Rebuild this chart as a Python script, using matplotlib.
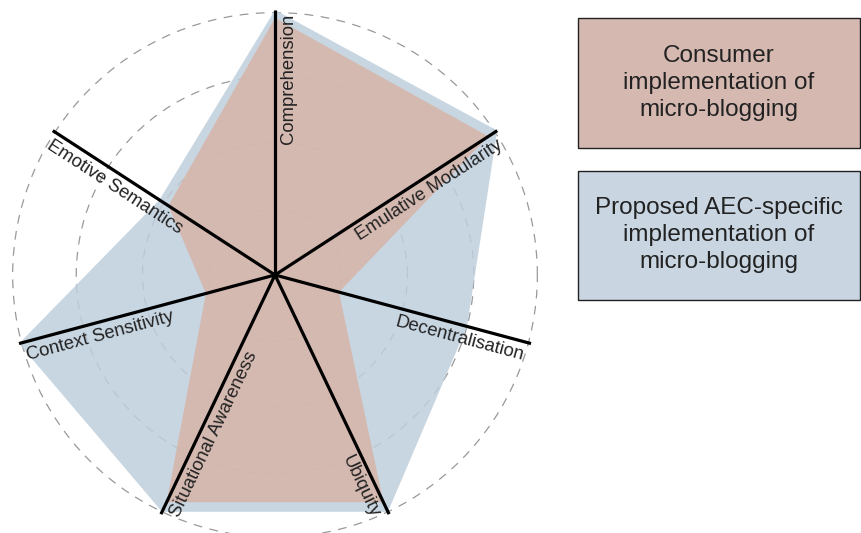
import numpy as np
import matplotlib
matplotlib.use('Agg')
import matplotlib.pyplot as plt
from matplotlib.patches import Rectangle

plt.rcParams['font.family'] = ['Liberation Sans', 'DejaVu Sans']

# spokes of the radar, clockwise from the top
categories = ['Comprehension', 'Emulative Modularity', 'Decentralisation', 'Ubiquity',
              'Situational Awareness', 'Context Sensitivity', 'Emotive Semantics']
# the spokes are not evenly spaced in the original drawing (degrees, 0 = east)
spoke_deg = [90, 33, -15, -64.5, -115.5, -165, 147]

consumer = [0.97, 0.96, 0.25, 0.95, 0.95, 0.27, 0.48]
proposed = [1.0, 1.0, 0.75, 0.99, 0.99, 1.0, 0.52]

legend_labels = ['Consumer\nimplementation of\nmicro-blogging',
                 'Proposed AEC-specific\nimplementation of\nmicro-blogging']

red_fill = '#d7b4a8'
blue_fill = '#bfcfdd'
red_box = '#d5b9b1'
blue_box = '#c9d6e2'

fig = plt.figure(figsize=(8.61, 5.33), dpi=100)
ax = fig.add_axes([0.0116, -0.0131, 0.6156, 0.9944], projection='polar')

theta = np.deg2rad(spoke_deg)

# closed polygons
t_closed = np.append(theta, theta[0])
ax.fill(t_closed, np.append(proposed, proposed[0]), color=blue_fill, alpha=0.85, lw=0, zorder=2)
ax.fill(t_closed, np.append(consumer, consumer[0]), color=red_fill, alpha=0.85, lw=0, zorder=3)

# spokes
for t in theta:
    ax.plot([t, t], [0, 1], color='black', lw=2.3, solid_capstyle='butt', zorder=5, clip_on=False)

# labels sit just under each spoke, ending at its outer tip
gap = 3.5  # points between spoke and text
for t, deg, name in zip(theta, spoke_deg, categories):
    if -90 < deg <= 90:
        rot, ha = deg, 'right'
    else:
        rot, ha = deg - 180, 'left'
    r = np.deg2rad(rot)
    ax.annotate(name, xy=(t, 0.985), xytext=(gap * np.sin(r), -gap * np.cos(r)),
                textcoords='offset points', rotation=rot, rotation_mode='anchor',
                ha=ha, va='top', fontsize=13.3, color='#222222', zorder=6)

# dashed rings
ax.set_ylim(0, 1)
ax.set_rgrids([0.25, 0.5, 0.75, 0.99])
ax.yaxis.grid(True, color='#999999', linestyle=(0, (7, 6)), lw=0.9)
ax.xaxis.grid(False)
ax.set_xticks([])
ax.set_yticklabels([])
ax.spines['polar'].set_visible(False)
ax.set_axisbelow(True)
ax.patch.set_alpha(0)

# legend boxes on the right
boxes = [(0.8443, red_box), (0.5591, blue_box)]
box_bottoms = [0.7223, 0.4371]
for (cy, col), b, txt in zip(boxes, box_bottoms, legend_labels):
    fig.patches.append(Rectangle((0.6713, b), 0.3275, 0.2430, transform=fig.transFigure,
                                 facecolor=col, edgecolor='#222222', lw=1.0))
    fig.text(0.835, cy, txt, ha='center', va='center', fontsize=17.5,
             linespacing=1.32, color='#222222')

fig.savefig('out.png', dpi=100)
